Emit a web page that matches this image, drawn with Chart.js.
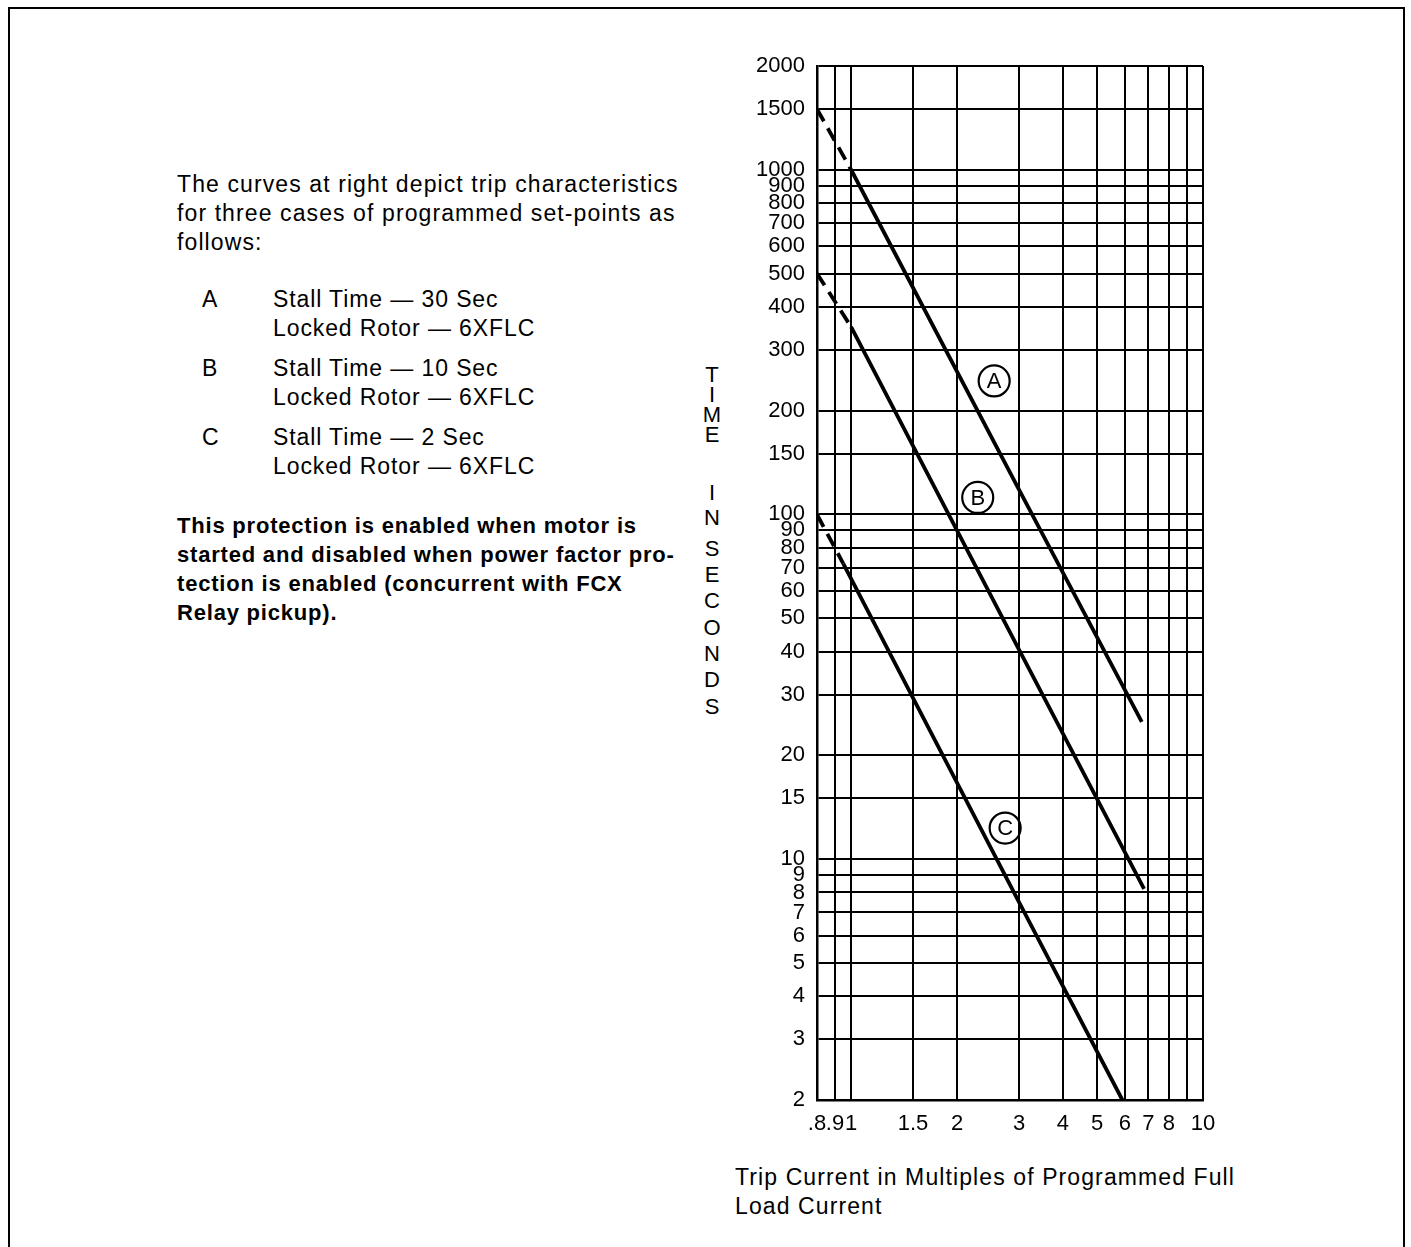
<!DOCTYPE html>
<html>
<head>
<meta charset="utf-8">
<title>Stall protection trip curves</title>
<script src="https://cdn.jsdelivr.net/npm/chart.js@4.4.1/dist/chart.umd.min.js"></script>
<style>
  body { margin: 0; background: #fff; }
  #page {
    position: relative; width: 1411px; height: 1247px; overflow: hidden;
    font-family: 'Liberation Sans', Arial, Helvetica, sans-serif; color: #000;
  }
  #frame {
    position: absolute; left: 8px; top: 7px; width: 1397px; height: 1260px;
    border: 2.5px solid #000; border-bottom: none; box-sizing: border-box;
  }
  #tripChart { position: absolute; left: 0; top: 0; }
  .txt {
    position: absolute; font-size: 23px; letter-spacing: 1.1px;
    line-height: 29px; white-space: nowrap;
  }
  .bold { font-size: 22px; font-weight: bold; letter-spacing: 0.8px; }
  .key { position: absolute; font-size: 23px; letter-spacing: 0.9px; line-height: 29px; white-space: nowrap; }
  .vletter {
    position: absolute; width: 24px; margin-left: -12px; text-align: center;
    font-size: 22px; line-height: 20px;
  }
</style>
</head>
<body>
<div id="page">
  <div id="frame"></div>

  <div class="txt" style="left:177px; top:170px;">
    The curves at right depict trip characteristics<br>
    for three cases of programmed set-points as<br>
    follows:
  </div>

  <div class="key" style="left:202px; top:285px;">A</div>
  <div class="key" style="left:273px; top:285px;">Stall Time — 30 Sec<br>Locked Rotor — 6XFLC</div>
  <div class="key" style="left:202px; top:354px;">B</div>
  <div class="key" style="left:273px; top:354px;">Stall Time — 10 Sec<br>Locked Rotor — 6XFLC</div>
  <div class="key" style="left:202px; top:423px;">C</div>
  <div class="key" style="left:273px; top:423px;">Stall Time — 2 Sec<br>Locked Rotor — 6XFLC</div>

  <div class="txt bold" style="left:177px; top:511px;">
    This protection is enabled when motor is<br>
    started and disabled when power factor pro-<br>
    tection is enabled (concurrent with FCX<br>
    Relay pickup).
  </div>

  <div id="yTitle"></div>

  <div class="txt" style="left:735px; top:1163px;">
    Trip Current in Multiples of Programmed Full<br>
    Load Current
  </div>

  <canvas id="tripChart" width="1411" height="1247"></canvas>
</div>

<script>
// ---- data ----
const xTickValues = [0.8, 0.9, 1, 1.5, 2, 3, 4, 5, 6, 7, 8, 9, 10];
const xTickLabels = ['.8', '.9', '1', '1.5', '2', '3', '4', '5', '6', '7', '8', '', '10'];
const yTickValues = [2, 3, 4, 5, 6, 7, 8, 9, 10, 15, 20, 30, 40, 50, 60, 70, 80, 90,
                     100, 150, 200, 300, 400, 500, 600, 700, 800, 900, 1000, 1500, 2000];

// curve A: stall time 30 s
const currentA     = [1, 3, 6.7];
const timeA        = [1000, 118, 25];
const dashCurrentA = [0.8, 1];
const dashTimeA    = [1500, 1000];

// curve B: stall time 10 s
const currentB     = [1, 3, 6.8];
const timeB        = [350, 40.5, 8.2];
const dashCurrentB = [0.8, 1];
const dashTimeB    = [500, 350];

// curve C: stall time 2 s
const currentC     = [0.95, 3, 5.9];
const timeC        = [72, 7.5, 2];
const dashCurrentC = [0.8, 0.95];
const dashTimeC    = [100, 72];

// circled curve letters (placed in data units)
const curveLabels = ['A', 'B', 'C'];
const labelX      = [2.55, 2.29, 2.74];
const labelY      = [244, 112, 12.3];

const titleLetters = ['T', 'I', 'M', 'E', 'I', 'N', 'S', 'E', 'C', 'O', 'N', 'D', 'S'];
const titleTops    = [375, 395, 415, 435, 493, 518, 549, 575, 601, 628, 654, 680, 707];

// vertical "TIME IN SECONDS" text
const yTitle = document.getElementById('yTitle');
titleLetters.forEach((ch, i) => {
  const d = document.createElement('div');
  d.className = 'vletter';
  d.style.left = '712px';
  d.style.top = (titleTops[i] - 10) + 'px';
  d.textContent = ch;
  yTitle.appendChild(d);
});

function pts(xs, ys) {
  return xs.map((x, i) => ({ x: x, y: ys[i] }));
}

function curve(xs, ys, dashed) {
  return {
    data: pts(xs, ys),
    borderColor: '#000',
    borderWidth: 3.8,
    borderDash: dashed ? [14, 8] : [],
    borderCapStyle: 'butt',
    pointRadius: 0,
    tension: 0,
    fill: false
  };
}

// draws the circled A / B / C markers
const circleLabels = {
  id: 'circleLabels',
  afterDatasetsDraw(chart) {
    const c = chart.ctx;
    const xs = chart.scales.x, ys = chart.scales.y;
    c.save();
    c.strokeStyle = '#000';
    c.fillStyle = '#000';
    c.lineWidth = 2.2;
    c.font = '22px "Liberation Sans", Arial, sans-serif';
    c.textAlign = 'center';
    c.textBaseline = 'middle';
    curveLabels.forEach((t, i) => {
      const px = xs.getPixelForValue(labelX[i]);
      const py = ys.getPixelForValue(labelY[i]);
      c.beginPath();
      c.arc(px, py, 15.5, 0, Math.PI * 2);
      c.stroke();
      c.fillText(t, px, py + 1);
    });
    c.restore();
  }
};

const tickFont = { family: "'Liberation Sans', Arial, sans-serif", size: 22 };

new Chart(document.getElementById('tripChart'), {
  type: 'line',
  data: {
    datasets: [
      curve(dashCurrentA, dashTimeA, true),
      curve(currentA, timeA, false),
      curve(dashCurrentB, dashTimeB, true),
      curve(currentB, timeB, false),
      curve(dashCurrentC, dashTimeC, true),
      curve(currentC, timeC, false)
    ]
  },
  options: {
    responsive: false,
    animation: false,
    devicePixelRatio: 1,
    layout: { padding: { left: 737, top: 66, right: 208, bottom: 0 } },
    plugins: { legend: { display: false }, tooltip: { enabled: false } },
    scales: {
      x: {
        type: 'logarithmic',
        min: 0.8,
        max: 10,
        afterBuildTicks: s => { s.ticks = xTickValues.map(v => ({ value: v })); },
        afterFit: s => { s.height = 147; },
        grid: { color: '#000', lineWidth: 2, drawTicks: false },
        border: { display: true, color: '#000', width: 2.5 },
        ticks: {
          autoSkip: false, maxRotation: 0, padding: 11, color: '#000', font: tickFont,
          callback: (v, i) => xTickLabels[i]
        }
      },
      y: {
        type: 'logarithmic',
        min: 2,
        max: 2000,
        afterBuildTicks: s => { s.ticks = yTickValues.map(v => ({ value: v })); },
        afterFit: s => { s.width = 80; },
        grid: { color: '#000', lineWidth: 2, drawTicks: false },
        border: { display: true, color: '#000', width: 2.5 },
        ticks: {
          autoSkip: false, padding: 12, color: '#000', font: tickFont,
          callback: (v, i) => String(yTickValues[i])
        }
      }
    }
  },
  plugins: [circleLabels]
});
</script>
</body>
</html>
